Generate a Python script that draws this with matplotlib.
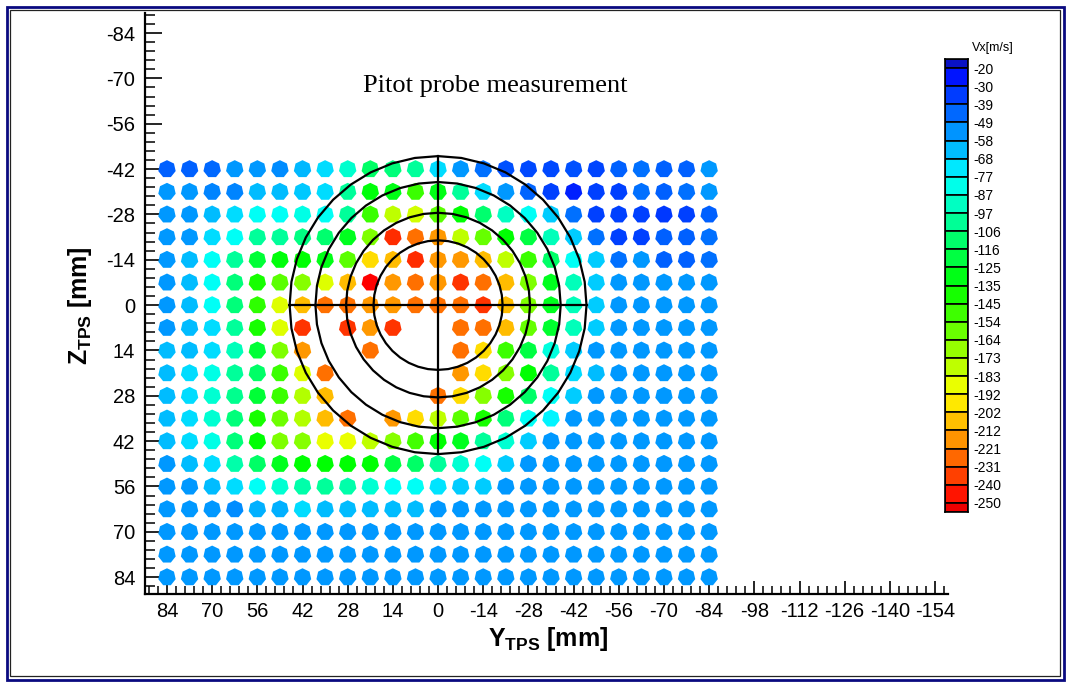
import numpy as np
import matplotlib
matplotlib.use("Agg")
import matplotlib.pyplot as plt
from matplotlib.colors import LinearSegmentedColormap, Normalize
from matplotlib.patches import Rectangle
from matplotlib.ticker import MultipleLocator

plt.rcParams['font.family'] = ['Liberation Sans', 'DejaVu Sans']
plt.rcParams['axes.unicode_minus'] = False
plt.rcParams['mathtext.fontset'] = 'custom'
plt.rcParams['mathtext.rm'] = 'Liberation Sans'
plt.rcParams['mathtext.bf'] = 'Liberation Sans:bold'

# grid positions [mm]
y_pos = [84, 77, 70, 63, 56, 49, 42, 35, 28, 21, 14, 7, 0,
         -7, -14, -21, -28, -35, -42, -49, -56, -63, -70, -77, -84]
z_pos = [-42, -35, -28, -21, -14, -7, 0, 7, 14, 21, 28, 35, 42, 49, 56, 63, 70, 77, 84]

n = np.nan
# Vx [m/s], one row per Z, columns follow y_pos
vx = [
    [-42, -42, -44, -55, -55, -52, -62, -70, -89, -112, -108, -100, -70, -55, -46, -38, -37, -37, -38, -36, -42, -46, -42, -42, -55],
    [-55, -55, -50, -50, -63, -63, -65, -70, -100, -133, -130, -148, -130, -100, -70, -55, -43, -35, -28, -35, -35, -46, -42, -46, -55],
    [-55, -55, -63, -70, -80, -80, -83, -80, -100, -148, -178, -182, -155, -135, -110, -91, -80, -66, -46, -35, -35, -35, -33, -35, -42],
    [-55, -55, -70, -80, -100, -100, -106, -110, -128, -163, -240, -224, -215, -178, -158, -135, -120, -93, -66, -46, -35, -35, -42, -42, -46],
    [-55, -63, -80, -100, -123, -133, -135, -130, -155, -200, -207, -240, -215, -215, -207, -178, -148, -112, -80, -66, -46, -55, -42, -42, -46],
    [-55, -63, -80, -108, -140, -155, -165, -185, -207, -250, -215, -224, -215, -238, -224, -207, -163, -128, -93, -66, -55, -55, -55, -55, -55],
    [-55, -63, -80, -108, -145, -185, -207, -224, -224, -215, -215, -224, -224, -224, -238, -207, -163, -128, -93, -66, -55, -55, -55, -55, -55],
    [-55, -63, -70, -100, -140, -185, -238, n, -238, -215, -238, n, n, -224, -224, -207, -158, -125, -93, -66, -55, -55, -55, -55, -55],
    [-63, -63, -70, -93, -123, -163, -215, n, n, -224, n, n, n, -224, -200, -148, -120, -85, -66, -55, -55, -55, -55, -55, -55],
    [-63, -70, -83, -100, -112, -148, -185, -224, n, n, n, n, n, -215, -200, -165, -135, -100, -70, -63, -55, -55, -55, -55, -55],
    [-63, -70, -88, -103, -123, -148, -175, -207, n, n, n, n, -224, -200, -165, -140, -112, -80, -66, -55, -55, -55, -55, -55, -55],
    [-63, -70, -88, -108, -140, -160, -175, -207, -224, n, -215, -200, -178, -155, -140, -108, -80, -75, -55, -55, -55, -55, -55, -55, -55],
    [-63, -70, -83, -108, -135, -163, -165, -188, -188, -178, -165, -150, -135, -128, -100, -88, -66, -55, -55, -55, -55, -55, -55, -55, -55],
    [-55, -63, -70, -97, -112, -128, -135, -135, -135, -135, -120, -112, -100, -88, -80, -66, -55, -55, -55, -55, -55, -55, -55, -55, -55],
    [-55, -55, -63, -70, -80, -88, -97, -100, -97, -88, -80, -80, -72, -66, -66, -55, -55, -55, -55, -55, -55, -55, -55, -55, -55],
    [-55, -55, -55, -52, -60, -60, -70, -63, -63, -63, -63, -63, -55, -55, -55, -55, -55, -55, -55, -55, -55, -55, -55, -55, -55],
    [-55] * 25,
    [-55] * 25,
    [-55] * 25,
]

# contour circles (radius [mm]) and legend levels
circle_r = [46, 38, 28.5, 20]
levels = np.linspace(-20, -250, 25)
level_labels = ['-20', '-30', '-39', '-49', '-58', '-68', '-77', '-87', '-97', '-106',
                '-116', '-125', '-135', '-145', '-154', '-164', '-173', '-183', '-192',
                '-202', '-212', '-221', '-231', '-240', '-250']

# -250 (red) ... -20 (blue)
cmap = LinearSegmentedColormap.from_list(
    'small_rainbow', ['#ff0000', '#ffff00', '#00ff00', '#00ffff', '#0000ff'])
norm = Normalize(vmin=-250, vmax=-20)

fig = plt.figure(figsize=(10.68, 6.82), dpi=100)
ax = fig.add_axes([0.1358, 0.129, 0.7518, 0.852])

YY, ZZ = np.meshgrid(y_pos, z_pos)
V = np.array(vx, dtype=float)
ok = ~np.isnan(V)
ax.scatter(YY[ok], ZZ[ok], c=V[ok], cmap=cmap, norm=norm,
           marker=(7, 0, 0), s=165, linewidths=0, zorder=2)

t = np.linspace(0, 2 * np.pi, 41)
for r in circle_r:
    ax.plot(r * np.cos(t), r * np.sin(t), color='black', lw=1.6, zorder=3)
R = circle_r[0]
ax.plot([R, -R], [0, 0], color='black', lw=1.6, zorder=3)
ax.plot([0, 0], [-R, R], color='black', lw=1.6, zorder=3)

ax.set_xlim(90.8, -158)
ax.set_ylim(89.2, -90.2)
ax.set_xticks(np.arange(84, -155, -14))
ax.set_yticks(np.arange(-84, 85, 14))
ax.xaxis.set_minor_locator(MultipleLocator(2.8))
ax.yaxis.set_minor_locator(MultipleLocator(2.8))
for s in ['top', 'right']:
    ax.spines[s].set_visible(False)
for s in ['left', 'bottom']:
    ax.spines[s].set_linewidth(1.6)
ax.tick_params(axis='x', which='major', direction='in', length=9.5, width=1.2,
               labelsize=14.5, pad=6)
ax.tick_params(axis='x', which='minor', direction='in', length=5.5, width=1.1)
ax.tick_params(axis='y', which='major', direction='in', length=12, width=1.2,
               labelsize=14.5, pad=7)
ax.tick_params(axis='y', which='minor', direction='in', length=7, width=1.1)

ax.set_xlabel(r'Y$_{\mathbf{TPS}}$ [mm]', fontsize=18, fontweight='bold')
ax.set_ylabel(r'Z$_{\mathbf{TPS}}$ [mm]', fontsize=18, fontweight='bold')
ax.xaxis.set_label_coords(0.502, -0.054)
ax.yaxis.set_label_coords(-0.063, 0.497)

ax.text(0.436, 0.864, 'Pitot probe measurement', transform=ax.transAxes,
        ha='center', va='baseline', fontsize=19, family='Liberation Serif')

# colour legend
cax = fig.add_axes([945 / 1068, 1 - 512 / 682, 23 / 1068, 453 / 682])
step = levels[0] - levels[1]
edges = np.concatenate([[levels[0] + step / 2], levels, [levels[-1] - step / 2]])
for i in range(len(edges) - 1):
    top, bot = edges[i], edges[i + 1]
    if i == 0:
        col = '#0a12c4'
    elif i == len(edges) - 2:
        col = '#ee0000'
    else:
        col = cmap(norm((top + bot) / 2))
    cax.bar(0.5, top - bot, bottom=bot, width=1, color=col,
            edgecolor='black', linewidth=1.2)
cax.set_xlim(0, 1)
cax.set_ylim(edges[-1], edges[0])
cax.set_xticks([])
cax.yaxis.tick_right()
cax.set_yticks(levels)
cax.set_yticklabels(level_labels)
cax.tick_params(axis='y', length=0, labelsize=10, pad=4)
for s in cax.spines.values():
    s.set_linewidth(1.2)
cax.text(2.1, 1.01, 'Vx[m/s]', transform=cax.transAxes, fontsize=9,
         ha='center', va='bottom')

# frame
fig.add_artist(Rectangle((6.5 / 1068, 2.5 / 682), 1057.5 / 1068, 673 / 682,
                         transform=fig.transFigure, fill=False, ec='#0a0a80', lw=2))
fig.add_artist(Rectangle((10 / 1068, 6 / 682), 1050 / 1068, 666 / 682,
                         transform=fig.transFigure, fill=False, ec='#222222', lw=0.9))

fig.savefig('out.png', dpi=100)
